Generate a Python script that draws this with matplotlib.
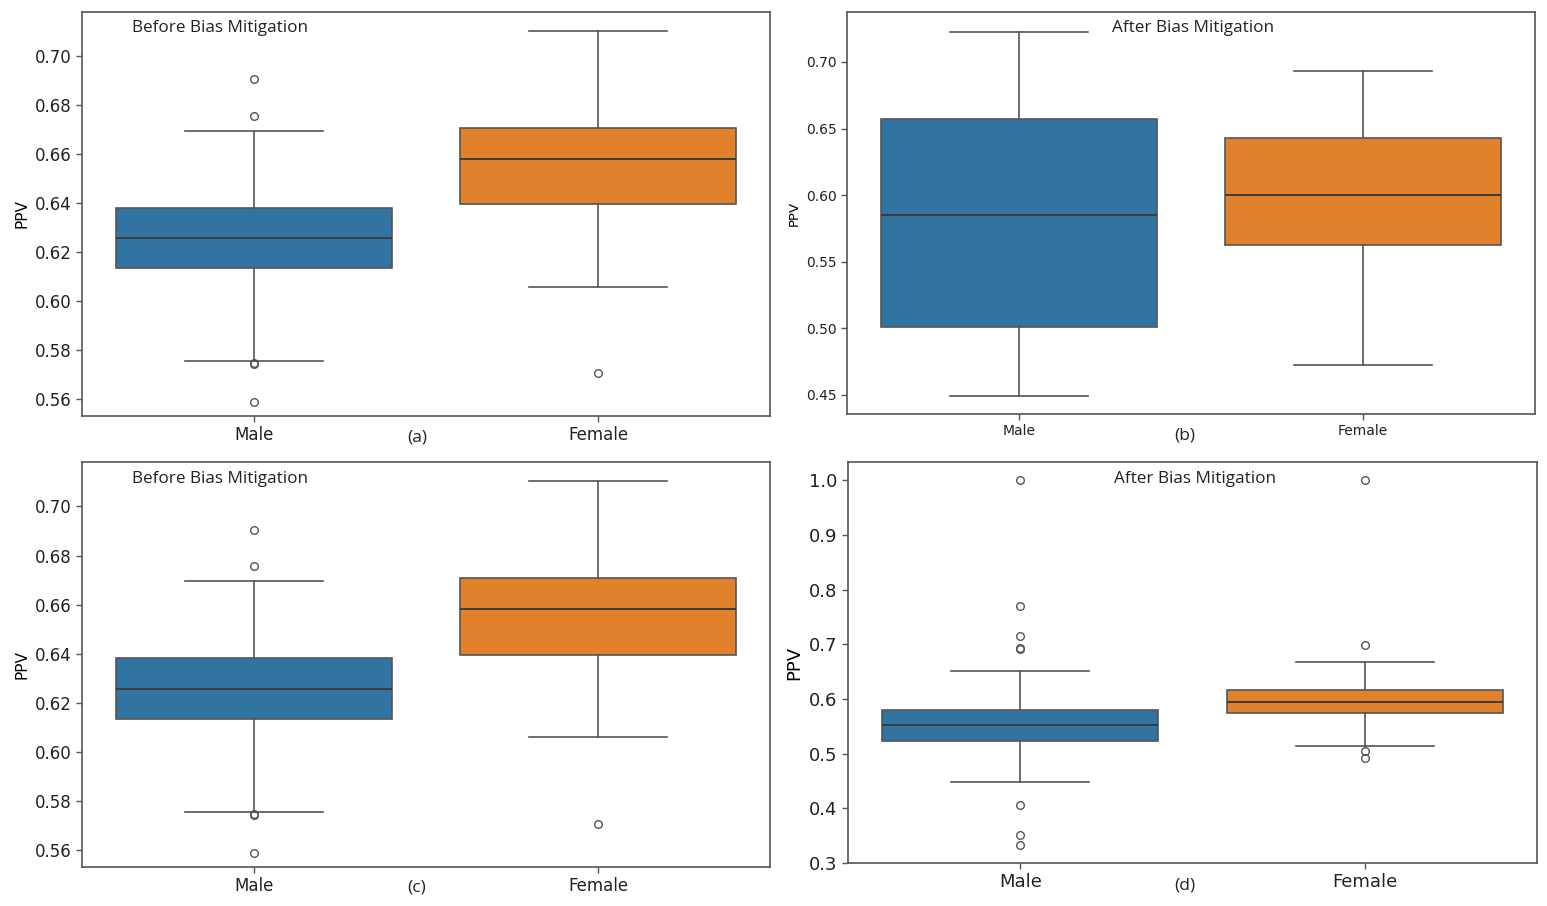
import matplotlib
matplotlib.use("Agg")
import matplotlib.pyplot as plt

# ========== DATA ==========
GROUPS = ["Male", "Female"]

# before mitigation (panels a and c are the same plot)
before_q1 = [0.6135, 0.6396]
before_med = [0.6258, 0.6581]
before_q3 = [0.6381, 0.6708]
before_lo = [0.5754, 0.6059]
before_hi = [0.6695, 0.7103]
before_fliers = [[0.6906, 0.6756, 0.5746, 0.5742, 0.5590], [0.5706]]

# after mitigation, panel b
after_b_q1 = [0.5009, 0.5627]
after_b_med = [0.5854, 0.5998]
after_b_q3 = [0.6571, 0.6427]
after_b_lo = [0.4493, 0.4725]
after_b_hi = [0.7227, 0.6933]
after_b_fliers = [[], []]

# after mitigation, panel d
after_d_q1 = [0.5234, 0.5745]
after_d_med = [0.5526, 0.5952]
after_d_q3 = [0.5800, 0.6170]
after_d_lo = [0.4473, 0.5136]
after_d_hi = [0.6518, 0.6670]
after_d_fliers = [[1.0, 0.770, 0.7151, 0.6930, 0.6920, 0.4065, 0.3505, 0.3335],
                  [1.0, 0.698, 0.505, 0.4917]]

before_ticks = [0.56, 0.58, 0.60, 0.62, 0.64, 0.66, 0.68, 0.70]
after_b_ticks = [0.45, 0.50, 0.55, 0.60, 0.65, 0.70]
after_d_ticks = [0.3, 0.4, 0.5, 0.6, 0.7, 0.8, 0.9, 1.0]
# =================================================

COLORS = ["#3274a1", "#e1812c"]
LINE = "#555555"
W, H = 1547, 906


def stats(q1, med, q3, lo, hi, fliers):
    return [dict(label=g, q1=a, med=b, q3=c, whislo=d, whishi=e, fliers=f)
            for g, a, b, c, d, e, f in zip(GROUPS, q1, med, q3, lo, hi, fliers)]


def box_axes(px_left, px_top, px_right, px_bottom):
    return fig.add_axes([px_left / W, 1 - px_bottom / H,
                         (px_right - px_left) / W, (px_bottom - px_top) / H])


def draw(ax, st, ylim, ticks, fmt, tick_font, tick_size, label_size):
    bp = ax.bxp(st, positions=[0, 1], widths=0.8, patch_artist=True,
                showfliers=True, manage_ticks=False,
                boxprops=dict(edgecolor=LINE, linewidth=1.2),
                medianprops=dict(color="#3c3c3c", linewidth=1.4),
                whiskerprops=dict(color=LINE, linewidth=1.2),
                capprops=dict(color=LINE, linewidth=1.2),
                capwidths=0.4,
                flierprops=dict(marker="o", markerfacecolor="none",
                                markeredgecolor=LINE, markersize=5.5,
                                markeredgewidth=1.0))
    for patch, c in zip(bp["boxes"], COLORS):
        patch.set_facecolor(c)
    ax.set_xlim(-0.5, 1.5)
    ax.set_ylim(*ylim)
    ax.set_xticks([0, 1])
    ax.set_xticklabels(GROUPS, family=tick_font, fontsize=tick_size)
    ax.set_yticks(ticks)
    ax.set_yticklabels([fmt.format(t) for t in ticks], family=tick_font, fontsize=tick_size)
    ax.set_ylabel("PPV", family=tick_font, fontsize=label_size, labelpad=4)
    for s in ax.spines.values():
        s.set_color(LINE)
        s.set_linewidth(1.2)
    ax.tick_params(colors="#222222", length=4, width=1, color=LINE)


fig = plt.figure(figsize=(W / 100, H / 100), dpi=100)

wide = ["DejaVu Sans"]
note = ["Open Sans", "DejaVu Sans"]

# (a)
ax_a = box_axes(82, 12, 770, 416)
draw(ax_a, stats(before_q1, before_med, before_q3, before_lo, before_hi, before_fliers),
     (0.5531, 0.7181), before_ticks, "{:.2f}", wide, 12, 11)
ax_a.text(0.073, 0.960, "Before Bias Mitigation", transform=ax_a.transAxes,
          ha="left", va="center", family=note, fontsize=12.3, color="#222222")

# (b)
ax_b = box_axes(847, 12, 1535, 414)
draw(ax_b, stats(after_b_q1, after_b_med, after_b_q3, after_b_lo, after_b_hi, after_b_fliers),
     (0.4357, 0.7375), after_b_ticks, "{:.2f}", wide, 10, 9.5)
ax_b.text(0.503, 0.960, "After Bias Mitigation", transform=ax_b.transAxes,
          ha="center", va="center", family=note, fontsize=12.3, color="#222222")

# (c)
ax_c = box_axes(82, 462, 770, 867)
draw(ax_c, stats(before_q1, before_med, before_q3, before_lo, before_hi, before_fliers),
     (0.5531, 0.7181), before_ticks, "{:.2f}", wide, 12, 11)
ax_c.text(0.073, 0.959, "Before Bias Mitigation", transform=ax_c.transAxes,
          ha="left", va="center", family=note, fontsize=12.3, color="#222222")

# (d)
ax_d = box_axes(848, 462, 1537, 863)
draw(ax_d, stats(after_d_q1, after_d_med, after_d_q3, after_d_lo, after_d_hi, after_d_fliers),
     (0.30, 1.0334), after_d_ticks, "{:.1f}", wide, 13, 13)
ax_d.text(0.503, 0.958, "After Bias Mitigation", transform=ax_d.transAxes,
          ha="center", va="center", family=note, fontsize=12.3, color="#222222")

# panel letters
for lab, x, y in [("(a)", 417, 437), ("(b)", 1185, 435), ("(c)", 417, 888), ("(d)", 1185, 885)]:
    fig.text(x / W, 1 - y / H, lab, ha="center", va="center", family=note,
             fontsize=12.5, color="#222222")

plt.savefig("out.png", dpi=100)
